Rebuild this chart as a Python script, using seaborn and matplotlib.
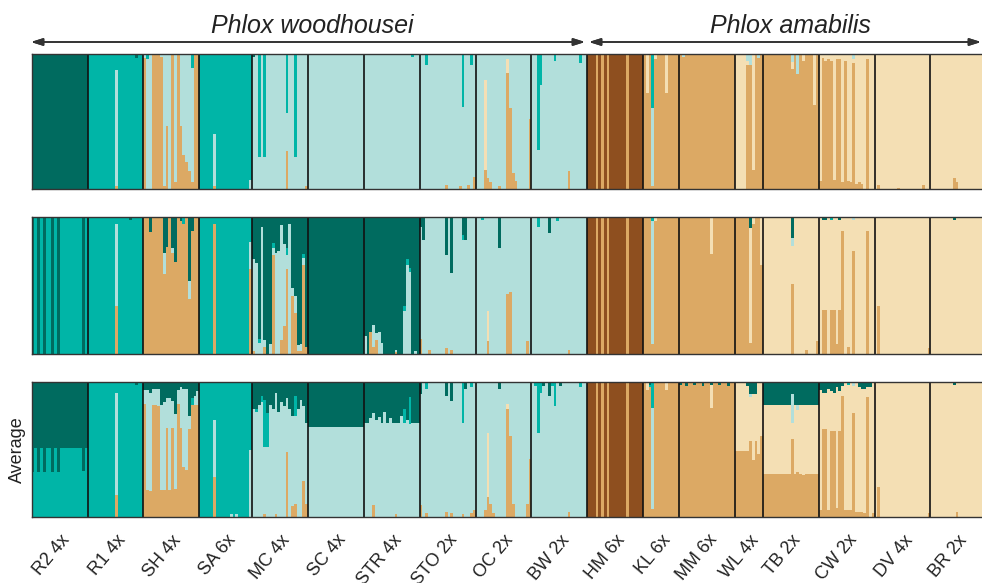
import pandas as pd
import matplotlib.pyplot as plt
import matplotlib.transforms as mtrans
import seaborn as sns

sns.set_style('white')
plt.rcParams['font.family'] = ['Liberation Sans', 'DejaVu Sans']

# populations and sample sizes
pops = ['R2 4x', 'R1 4x', 'SH 4x', 'SA 6x', 'MC 4x', 'SC 4x', 'STR 4x', 'STO 2x', 'OC 2x',
        'BW 2x', 'HM 6x', 'KL 6x', 'MM 6x', 'WL 4x', 'TB 2x', 'CW 2x', 'DV 4x', 'BR 2x']
n_ind = [20, 20, 20, 19, 20, 20, 20, 20, 20, 20, 20, 13, 20, 10, 20, 20, 20, 19]

# clusters, bottom -> top
order = ['b', 't', 'c', 'l', 'g', 'd']
colors = {'b': '#8E4F1F', 't': '#DCA964', 'c': '#F4DFB4',
          'l': '#B2DFDB', 'g': '#00B5A7', 'd': '#006B5F'}

# cluster that fills the rest of each bar
fill_k1 = ['d', 'g', 'l', 'g', 'l', 'l', 'l', 'l', 'l', 'l', 'b', 't', 't', 'c', 't', 'c', 'c', 'c']
fill_k2 = ['g', 'g', 't', 'g', 'd', 'd', 'd', 'l', 'l', 'l', 'b', 't', 't', 't', 'c', 'c', 'c', 'c']
fill_avg = ['g', 'g', 'l', 'g', 'l', 'l', 'l', 'l', 'l', 'l', 'b', 't', 't', 'c', 'c', 'c', 'c', 'c']

default_avg = {'R2 4x': {'d': .49}, 'SC 4x': {'d': .33}, 'STR 4x': {'d': .3},
               'WL 4x': {'t': .49}, 'TB 2x': {'t': .32, 'd': .17}}

hm = {3: {'t': 1}, 5: {'t': 1}, 7: {'t': 1}, 14: {'t': 1}}

# individuals that differ from the fill (index within population -> proportions)
extra_k1 = {
    'R1 4x': {10: {'l': .86, 't': .02}, 17: {'d': .03}},
    'SH 4x': {0: {'t': .97}, 1: {'g': .04}, 3: {'t': 1}, 4: {'t': 1}, 5: {'t': 1}, 6: {'t': .98},
              7: {'t': .02}, 8: {'t': .47}, 10: {'t': 1}, 11: {'t': .05}, 12: {'t': 1},
              13: {'t': .47}, 14: {'t': .25}, 15: {'t': .2}, 16: {'t': .13},
              17: {'t': .05, 'g': .1}, 18: {'t': 1}, 19: {'t': 1}},
    'SA 6x': {5: {'t': .02, 'l': .39}, 18: {'l': .07}},
    'MC 4x': {0: {'d': .02}, 2: {'g': .76}, 4: {'g': .76}, 12: {'t': .28, 'g': .44},
              15: {'g': .76}, 19: {'t': .02}},
    'STR 4x': {17: {'g': .02}},
    'STO 2x': {2: {'g': .08}, 9: {'t': .03}, 14: {'t': .02}, 15: {'g': .39}, 17: {'t': .03},
               18: {'g': .08}, 19: {'t': .09}},
    'OC 2x': {3: {'t': .14, 'c': .67}, 4: {'t': .08}, 5: {'t': .05}, 8: {'t': .02},
              11: {'t': .86, 'c': .1}, 12: {'t': .6}, 13: {'t': .12}, 14: {'t': .06}, 19: {'t': .52}},
    'BW 2x': {2: {'g': .71}, 3: {'g': .23}, 8: {'g': .05}, 13: {'t': .13}, 17: {'g': .07}},
    'HM 6x': hm,
    'KL 6x': {1: {'c': .29}, 3: {'t': .02, 'l': .58, 'g': .4}, 4: {'c': .04}, 8: {'c': .29}},
    'MM 6x': {1: {'l': .02}},
    'WL 4x': {4: {'t': .92, 'l': .05}, 5: {'t': .92, 'l': .08}, 6: {'t': .14}, 7: {'t': 1},
              8: {'t': .97, 'l': .03}, 9: {'t': 1}},
    'TB 2x': {10: {'c': .05, 'l': .06}, 12: {'l': .15}, 14: {'c': .05}, 18: {'c': .38}},
    'CW 2x': {0: {'t': .06}, 1: {'t': .97}, 2: {'t': .95}, 3: {'t': .96}, 4: {'t': .95},
              5: {'t': .07}, 6: {'t': .96}, 7: {'t': .96}, 8: {'t': .05}, 9: {'t': .95},
              10: {'t': .06}, 11: {'t': .05}, 12: {'t': .93, 'l': .04}, 13: {'t': .04},
              14: {'t': .05}, 15: {'t': .04}, 17: {'t': .96}},
    'DV 4x': {1: {'t': .03}, 8: {'t': .01}, 17: {'t': .03}},
    'BR 2x': {8: {'t': .08}, 9: {'t': .05}},
}

extra_k2 = {
    'R2 4x': {0: {'d': 1}, 2: {'d': 1}, 4: {'d': 1}, 7: {'d': 1}, 9: {'d': 1}, 18: {'d': 1}},
    'R1 4x': {10: {'t': .35, 'l': .6}, 15: {'d': .02}},
    'SH 4x': {2: {'d': .11}, 7: {'d': .26, 'l': .16}, 8: {'d': .22}, 10: {'d': .23, 'l': .03},
              11: {'d': .33}, 13: {'d': .03}, 14: {'g': .05}, 16: {'d': .47, 'l': .13}, 17: {'d': .1}},
    'SA 6x': {5: {'t': .95}, 18: {'t': .62, 'l': .2}},
    'MC 4x': {0: {'l': .67, 't': .02}, 1: {'l': .66}, 2: {'l': .08, 'g': .03}, 3: {'l': .93},
              4: {'t': .05, 'l': .05}, 6: {'l': .07}, 7: {'t': .72, 'l': .05, 'g': .04},
              8: {'l': .74}, 9: {'l': .75}, 10: {'t': .1, 'l': .84}, 11: {'t': .2, 'l': .6},
              12: {'t': .62, 'l': .1, 'g': .05}, 13: {'l': .95}, 14: {'t': .42, 'l': .06},
              15: {'t': .3, 'l': .12}, 16: {'t': .02, 'l': .04}, 17: {'l': .05, 't': .02},
              18: {'t': .65, 'l': .05, 'g': .03}, 19: {'t': .05}},
    'STR 4x': {0: {'l': .13}, 2: {'t': .16}, 3: {'t': .05, 'l': .16}, 4: {'t': .1, 'l': .05},
               5: {'l': .16}, 6: {'l': .08}, 11: {'t': .01, 'l': .02}, 14: {'l': .31, 'g': .04},
               15: {'l': .65, 'g': .04}, 16: {'l': .6, 'g': .03}, 18: {'l': .02}},
    'STO 2x': {0: {'t': .11, 'd': .07}, 1: {'d': .17}, 3: {'t': .03}, 9: {'t': .04, 'd': .28},
               11: {'t': .03, 'd': .41}, 15: {'g': .04, 'd': .13}, 16: {'d': .17}},
    'OC 2x': {2: {'g': .02}, 4: {'t': .09, 'c': .22}, 8: {'d': .23}, 11: {'t': .44},
              12: {'t': .45}, 18: {'t': .09}},
    'BW 2x': {2: {'g': .07}, 6: {'d': .12}, 9: {'g': .03}, 13: {'t': .03}},
    'HM 6x': hm,
    'KL 6x': {3: {'t': .07, 'l': .9, 'g': .03}, 4: {'c': .03}},
    'MM 6x': {11: {'c': .27}},
    'WL 4x': {5: {'c': .84, 'd': .08}, 6: {'c': .05}, 9: {'c': .35}},
    'TB 2x': {10: {'t': .51, 'l': .06, 'd': .15}, 15: {'t': .03}, 19: {'t': .09}},
    'CW 2x': {1: {'t': .32, 'd': .02}, 2: {'t': .32, 'd': .02}, 4: {'t': .32, 'g': .02},
              5: {'t': .32}, 6: {'t': .07}, 7: {'t': .32, 'd': .02}, 8: {'t': .9},
              10: {'t': .05}, 12: {'t': .75, 'l': .02}, 17: {'t': .9}},
    'DV 4x': {1: {'t': .35}, 19: {'t': .04}},
    'BR 2x': {8: {'d': .02}},
}

extra_avg = {
    'R2 4x': {0: {'d': .67}, 2: {'d': .67}, 4: {'d': .67}, 7: {'d': .67}, 9: {'d': .67}, 18: {'d': .66}},
    'R1 4x': {10: {'t': .16, 'l': .76}, 17: {'d': .02}},
    'SH 4x': {0: {'t': .84, 'd': .06}, 1: {'t': .2, 'd': .06}, 2: {'t': .19, 'd': .08},
              3: {'t': .83, 'd': .05}, 4: {'t': .83, 'd': .05}, 5: {'t': .82, 'd': .05},
              6: {'t': .2, 'd': .17}, 7: {'t': .2, 'd': .15}, 8: {'t': .66, 'd': .12},
              9: {'t': .2, 'd': .12}, 10: {'t': .66, 'd': .14}, 11: {'t': .21, 'd': .24},
              12: {'t': .84, 'd': .06}, 13: {'t': .66, 'd': .04}, 14: {'t': .37, 'd': .05},
              15: {'t': .35, 'd': .05}, 16: {'t': .65, 'd': .25}, 17: {'t': .83, 'g': .05, 'd': .12},
              18: {'t': .83, 'd': .1}, 19: {'t': .83, 'd': .07}},
    'SA 6x': {5: {'t': .3, 'l': .42}, 11: {'l': .02}, 13: {'l': .02}, 18: {'l': .5}},
    'MC 4x': {0: {'d': .2}, 1: {'d': .2, 'g': .02}, 2: {'d': .17}, 3: {'d': .1, 'g': .05},
              4: {'d': .13, 'g': .35, 't': .02}, 5: {'d': .23, 'g': .25}, 6: {'d': .17},
              7: {'d': .2}, 8: {'d': .08, 't': .02}, 9: {'d': .22}, 10: {'d': .15},
              11: {'d': .18}, 12: {'d': .12, 't': .48}, 13: {'d': .2}, 14: {'d': .25, 't': .08},
              15: {'d': .1, 'g': .15, 't': .1}, 16: {'d': .2}, 17: {'d': .13},
              18: {'d': .18, 't': .27}, 19: {'d': .3, 't': .1}},
    'STR 4x': {2: {'d': .27}, 3: {'d': .23, 't': .09}, 4: {'d': .28}, 5: {'d': .26},
               7: {'d': .22}, 9: {'d': .27}, 11: {'d': .3, 't': .02}, 13: {'d': .25},
               14: {'d': .2, 'g': .1}, 15: {'d': .28}, 16: {'d': .11, 'g': .2}},
    'STO 2x': {0: {'d': .09, 't': .09}, 2: {'g': .05, 't': .03}, 9: {'d': .1, 't': .04},
               11: {'d': .14, 't': .03}, 15: {'g': .3, 't': .02}, 16: {'d': .05},
               18: {'g': .04, 't': .03}, 19: {'t': .05}},
    'OC 2x': {3: {'t': .05}, 4: {'t': .15, 'c': .47}, 5: {'t': .1}, 6: {'t': .03}, 8: {'d': .05},
              11: {'t': .8, 'c': .04}, 12: {'t': .6}, 13: {'t': .1}, 18: {'t': .1}, 19: {'t': .43}},
    'BW 2x': {1: {'g': .03}, 2: {'g': .38}, 3: {'g': .08}, 4: {'d': .03}, 6: {'d': .1},
              7: {'g': .03}, 8: {'g': .18}, 10: {'d': .03}, 13: {'t': .04}, 17: {'g': .04}},
    'HM 6x': hm,
    'KL 6x': {1: {'c': .06}, 2: {'g': .02, 'd': .02}, 3: {'t': .04, 'l': .75, 'g': .19}, 8: {'c': .06}},
    'MM 6x': {0: {'d': .02}, 2: {'d': .03}, 5: {'d': .02}, 8: {'d': .03}, 11: {'c': .17, 'd': .02},
              14: {'d': .02}, 17: {'d': .03}},
    'WL 4x': {4: {'t': .49, 'd': .03}, 5: {'t': .56, 'l': .02, 'd': .09}, 6: {'t': .42, 'd': .09},
              7: {'t': .56, 'd': .09}, 8: {'t': .47}, 9: {'t': .6}},
    'TB 2x': {10: {'t': .58, 'c': .12, 'l': .21, 'd': .09}, 12: {'t': .33, 'l': .04, 'd': .17},
              14: {'t': .31, 'd': .17}},
    'CW 2x': {0: {'t': .05, 'd': .06}, 1: {'t': .65, 'd': .08}, 2: {'t': .65, 'd': .08},
              3: {'t': .05, 'd': .05}, 4: {'t': .64, 'd': .07}, 5: {'t': .64, 'd': .08},
              6: {'t': .07, 'd': .04}, 7: {'t': .64, 'd': .07}, 8: {'t': .9, 'd': .03},
              9: {'t': .05}, 10: {'t': .05, 'g': .02}, 11: {'t': .05}, 12: {'t': .77, 'l': .03},
              13: {'t': .04}, 14: {'t': .04, 'd': .04}, 15: {'t': .04, 'd': .05},
              16: {'d': .05, 't': .03}, 17: {'t': .89, 'd': .04}, 18: {'d': .04}, 19: {'t': .03}},
    'DV 4x': {1: {'t': .22}, 19: {'t': .03}},
    'BR 2x': {8: {'d': .02}, 9: {'t': .04}},
}


def build(fill, extra, default):
    rows = []
    x = 0
    for p, pop in enumerate(pops):
        for i in range(n_ind[p]):
            mix = dict(extra.get(pop, {}).get(i, default.get(pop, {})))
            mix[fill[p]] = max(0, 1 - sum(v for k, v in mix.items() if k != fill[p]))
            for k in order:
                rows.append((x, k, mix.get(k, 0)))
            x += 1
    return pd.DataFrame(rows, columns=['ind', 'cluster', 'q'])


panels = [build(fill_k1, extra_k1, {}),
          build(fill_k2, extra_k2, {}),
          build(fill_avg, extra_avg, default_avg)]

n_total = sum(n_ind)
bounds = pd.Series(n_ind).cumsum()
centers = bounds - pd.Series(n_ind) / 2 - 0.5

W, H = 982, 583
fig = plt.figure(figsize=(W / 100, H / 100), dpi=100)
left = 31.7 / W
width = (983.5 - 31.7) / W
rects = [(54, 189), (217, 353.7), (382, 517)]

for j, (top, bot) in enumerate(rects):
    ax = fig.add_axes([left, 1 - bot / H, width, (bot - top) / H])
    sns.histplot(data=panels[j], x='ind', weights='q', hue='cluster', hue_order=order[::-1],
                 palette=colors, multiple='stack', discrete=True, shrink=1, alpha=1,
                 linewidth=0, antialiased=False, legend=False, ax=ax)
    for b in bounds[:-1]:
        ax.axvline(b - 0.5, color='#111111', lw=1.2)
    ax.set_xlim(-0.5, n_total - 0.5)
    ax.set_ylim(0, 1)
    ax.set_yticks([])
    ax.set_xlabel('')
    ax.set_ylabel('')
    for s in ax.spines.values():
        s.set_color('#333333')
        s.set_linewidth(1.0)
    if j < 2:
        ax.set_xticks([])
    else:
        ax.set_xticks(centers)
        ax.set_xticklabels(pops, rotation=50, ha='right', va='center', rotation_mode='anchor',
                           fontsize=13, color='#222222')
        ax.tick_params(axis='x', length=0, pad=14.5)
        off = mtrans.ScaledTranslation(7 / 100, 0, fig.dpi_scale_trans)
        for lab in ax.get_xticklabels():
            lab.set_transform(lab.get_transform() + off)
        ax.set_ylabel('Average', fontsize=13, color='#222222')

# species arrows
y_arr = 1 - 42 / H
arrow = dict(arrowstyle='<|-|>,head_length=0.7,head_width=0.22', color='#333333', lw=1.2,
             shrinkA=0, shrinkB=0)
fig.add_artist(plt.annotate('', xy=(585 / W, y_arr), xytext=(31 / W, y_arr),
                            xycoords='figure fraction', arrowprops=arrow))
fig.add_artist(plt.annotate('', xy=(981 / W, y_arr), xytext=(589 / W, y_arr),
                            xycoords='figure fraction', arrowprops=arrow))
fig.text(312 / W, 1 - 33 / H, 'Phlox woodhousei', style='italic', fontsize=18,
         ha='center', va='baseline', color='#222222')
fig.text(790 / W, 1 - 33 / H, 'Phlox amabilis', style='italic', fontsize=18,
         ha='center', va='baseline', color='#222222')

fig.savefig('out.png', dpi=100)
